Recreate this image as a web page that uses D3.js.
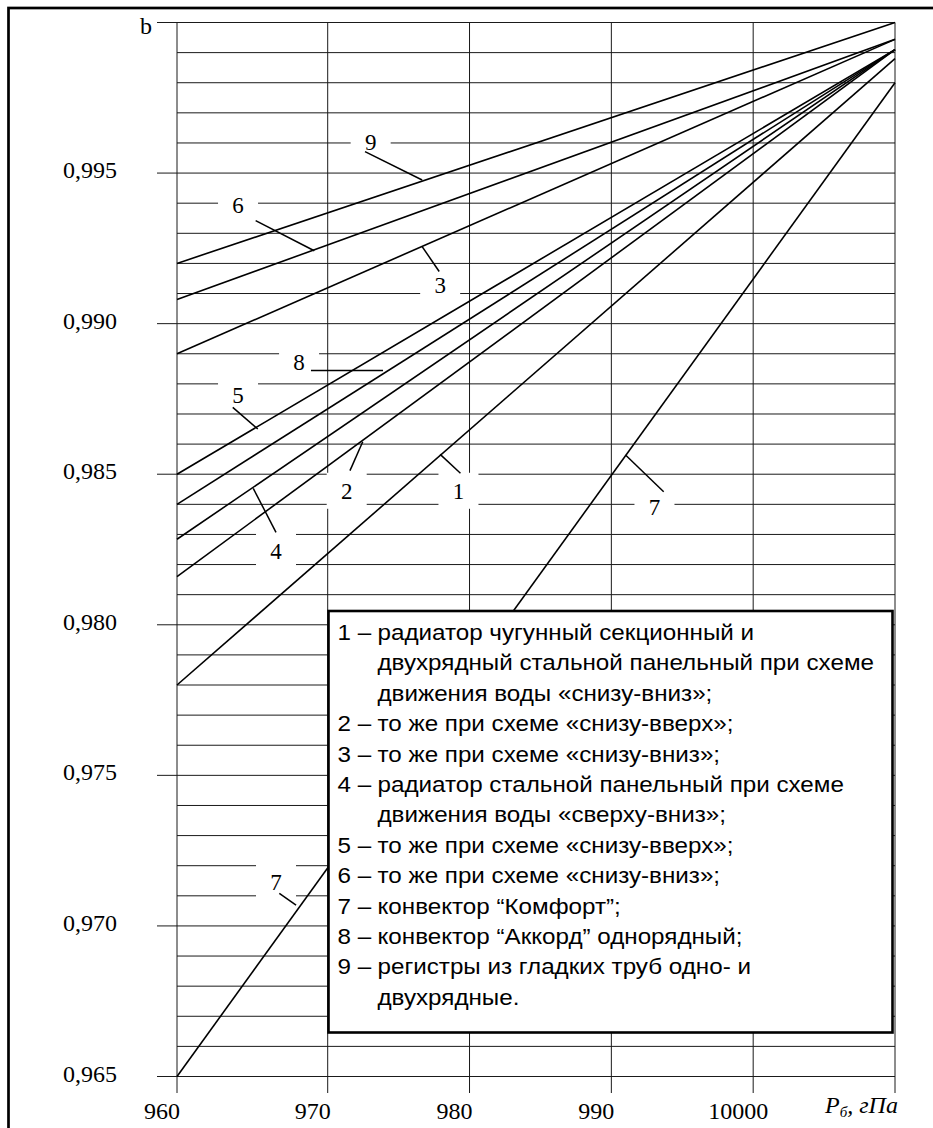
<!DOCTYPE html>
<html><head><meta charset="utf-8">
<script src="https://cdn.jsdelivr.net/npm/d3@7"></script>
<style>html,body{margin:0;padding:0;background:#fff;} svg{display:block}</style>
</head><body>
<svg id="c" width="933" height="1128"></svg>
<script>
// ---------- data ----------
const xTicks = [960, 970, 980, 990, 1000, 1010];
const xTickLabels = ["960", "970", "980", "990", "10000", ""];
const yMajor = [0.965, 0.970, 0.975, 0.980, 0.985, 0.990, 0.995, 1.000];
const yMajorLabels = ["0,965", "0,970", "0,975", "0,980", "0,985", "0,990", "0,995", "b"];
const yMinorStep = 0.001;
const xTitle = "P";
const xTitleSub = "б";
const xTitleRest = ", гПа";

const seriesIds = ["1", "2", "3", "4", "5", "6", "7", "8", "9"];
const pressure = [960, 1010];
const b1 = [0.9780, 0.9988];
const b2 = [0.9816, 0.9991];
const b3 = [0.9890, 0.99944];
const b4 = [0.98284, 0.9991];
const b5 = [0.9850, 0.9991];
const b6 = [0.9908, 0.99944];
const b7 = [0.9650, 0.9980];
const b8 = [0.9840, 0.9991];
const b9 = [0.9920, 1.0000];
const seriesValues = [b1, b2, b3, b4, b5, b6, b7, b8, b9];

// curve labels (data coordinates) and their leader lines
const labelText = ["9", "6", "3", "8", "5", "2", "4", "1", "7", "7"];
const labelP = [973.03, 964.05, 977.93, 968.10, 964.05, 971.34, 966.57, 979.22, 993.04, 966.57];
const labelB = [0.99604, 0.99394, 0.99128, 0.98872, 0.98763, 0.98445, 0.98246, 0.98445, 0.98392, 0.97147];
const leadP1 = [972.63, 965.22, 977.86, 968.89, 963.70, 971.57, 966.57, 979.36, 993.69, 966.79];
const leadB1 = [0.99571, 0.99342, 0.99173, 0.98844, 0.98722, 0.98512, 0.98307, 0.98503, 0.98442, 0.97108];
const leadP2 = [976.66, 969.11, 976.66, 973.90, 965.36, 972.47, 965.06, 977.93, 991.00, 967.90];
const leadB2 = [0.99477, 0.99242, 0.99256, 0.98844, 0.98650, 0.98608, 0.98453, 0.98566, 0.98564, 0.97069];

// legend
const legendNums = ["1 –", "", "", "2 –", "3 –", "4 –", "", "5 –", "6 –", "7 –", "8 –", "9 –", ""];
const legendTexts = [
  "радиатор чугунный секционный и",
  "двухрядный стальной панельный при схеме",
  "движения воды «снизу-вниз»;",
  "то же при схеме «снизу-вверх»;",
  "то же при схеме «снизу-вниз»;",
  "радиатор стальной панельный при схеме",
  "движения воды «сверху-вниз»;",
  "то же при схеме «снизу-вверх»;",
  "то же при схеме «снизу-вниз»;",
  "конвектор “Комфорт”;",
  "конвектор “Аккорд” однорядный;",
  "регистры из гладких труб одно- и",
  "двухрядные."
];

// ---------- drawing ----------
const svg = d3.select("#c");
const serif = "'Liberation Serif', 'Times New Roman', serif";
const sans = "'Liberation Sans', Arial, Helvetica, sans-serif";

const x = d3.scaleLinear().domain([960, 970, 1010]).range([177, 327.7, 895]);
const y = d3.scaleLinear().domain([0.965, 1.0]).range([1076.5, 22.5]);

// outer frame
svg.append("rect").attr("x", 8.5).attr("y", 8).attr("width", 1000).attr("height", 1200)
  .attr("fill", "none").attr("stroke", "#000").attr("stroke-width", 2.7);

const grid = svg.append("g").attr("stroke", "#1a1a1a").attr("stroke-width", 1).attr("fill", "none");
const nMinor = Math.round((1.0 - 0.965) / yMinorStep);
const minor = d3.range(nMinor + 1).map(i => +(0.965 + i * yMinorStep).toFixed(3));
grid.selectAll("line.h").data(minor).join("line")
  .attr("x1", d => yMajor.some(m => Math.abs(m - d) < 1e-6) ? x(960) - 20 : x(960))
  .attr("x2", x(1010))
  .attr("y1", d => y(d)).attr("y2", d => y(d));
grid.selectAll("line.v").data(xTicks).join("line")
  .attr("x1", d => x(d)).attr("x2", d => x(d))
  .attr("y1", y(1.0)).attr("y2", y(0.965) + 16.5);

// x tick labels
svg.append("g").selectAll("text").data(xTicks).join("text")
  .attr("x", d => x(d) - 15).attr("y", 1119)
  .attr("text-anchor", "middle").style("font-family", serif).attr("font-size", 24)
  .text((d, i) => xTickLabels[i]);

// y tick labels
svg.append("g").selectAll("text").data(yMajor).join("text")
  .attr("x", (d, i) => yMajorLabels[i] === "b" ? 152 : 117)
  .attr("y", (d, i) => yMajorLabels[i] === "b" ? y(d) + 11 : y(d) + 5)
  .attr("text-anchor", "end").style("font-family", serif).attr("font-size", 24)
  .text((d, i) => yMajorLabels[i]);

// x title
const xt = svg.append("text").attr("x", 825).attr("y", 1113)
  .style("font-family", serif).attr("font-style", "italic").attr("font-size", 24);
xt.append("tspan").text(xTitle);
xt.append("tspan").attr("font-size", 15).attr("dy", 4).text(xTitleSub);
xt.append("tspan").attr("dy", -4).text(xTitleRest);

// curves
const line = d3.line().x(d => x(d[0])).y(d => y(d[1]));
svg.append("g").selectAll("path").data(seriesValues).join("path")
  .attr("d", vals => line(pressure.map((p, i) => [p, vals[i]])))
  .attr("fill", "none").attr("stroke", "#000").attr("stroke-width", 1.6);

// curve labels
const lab = svg.append("g");
lab.selectAll("rect").data(labelText).join("rect")
  .attr("x", (d, i) => x(labelP[i]) - 20).attr("y", (d, i) => y(labelB[i]) - 18)
  .attr("width", 40).attr("height", 36).attr("fill", "#fff");
lab.selectAll("line").data(labelText).join("line")
  .attr("x1", (d, i) => x(leadP1[i])).attr("y1", (d, i) => y(leadB1[i]))
  .attr("x2", (d, i) => x(leadP2[i])).attr("y2", (d, i) => y(leadB2[i]))
  .attr("stroke", "#000").attr("stroke-width", 1.5);
lab.selectAll("text").data(labelText).join("text")
  .attr("x", (d, i) => x(labelP[i])).attr("y", (d, i) => y(labelB[i]) + 8)
  .attr("text-anchor", "middle").style("font-family", serif).attr("font-size", 23)
  .text(d => d);

// legend
const lg = svg.append("g");
lg.append("rect").attr("x", 328.5).attr("y", 611).attr("width", 564).attr("height", 421.5)
  .attr("fill", "#fff").attr("stroke", "#000").attr("stroke-width", 2.6);
const rowY = i => 632 + i * 30.4 + 8;
lg.selectAll("text.n").data(legendNums).join("text").attr("class", "n")
  .attr("transform", (d, i) => `translate(337.5,${rowY(i)}) scale(1.1,1)`)
  .style("font-family", sans).attr("font-size", 22).text(d => d);
lg.selectAll("text.t").data(legendTexts).join("text").attr("class", "t")
  .attr("transform", (d, i) => `translate(377.5,${rowY(i)}) scale(1.1,1)`)
  .style("font-family", sans).attr("font-size", 22).text(d => d);
</script>
</body></html>
